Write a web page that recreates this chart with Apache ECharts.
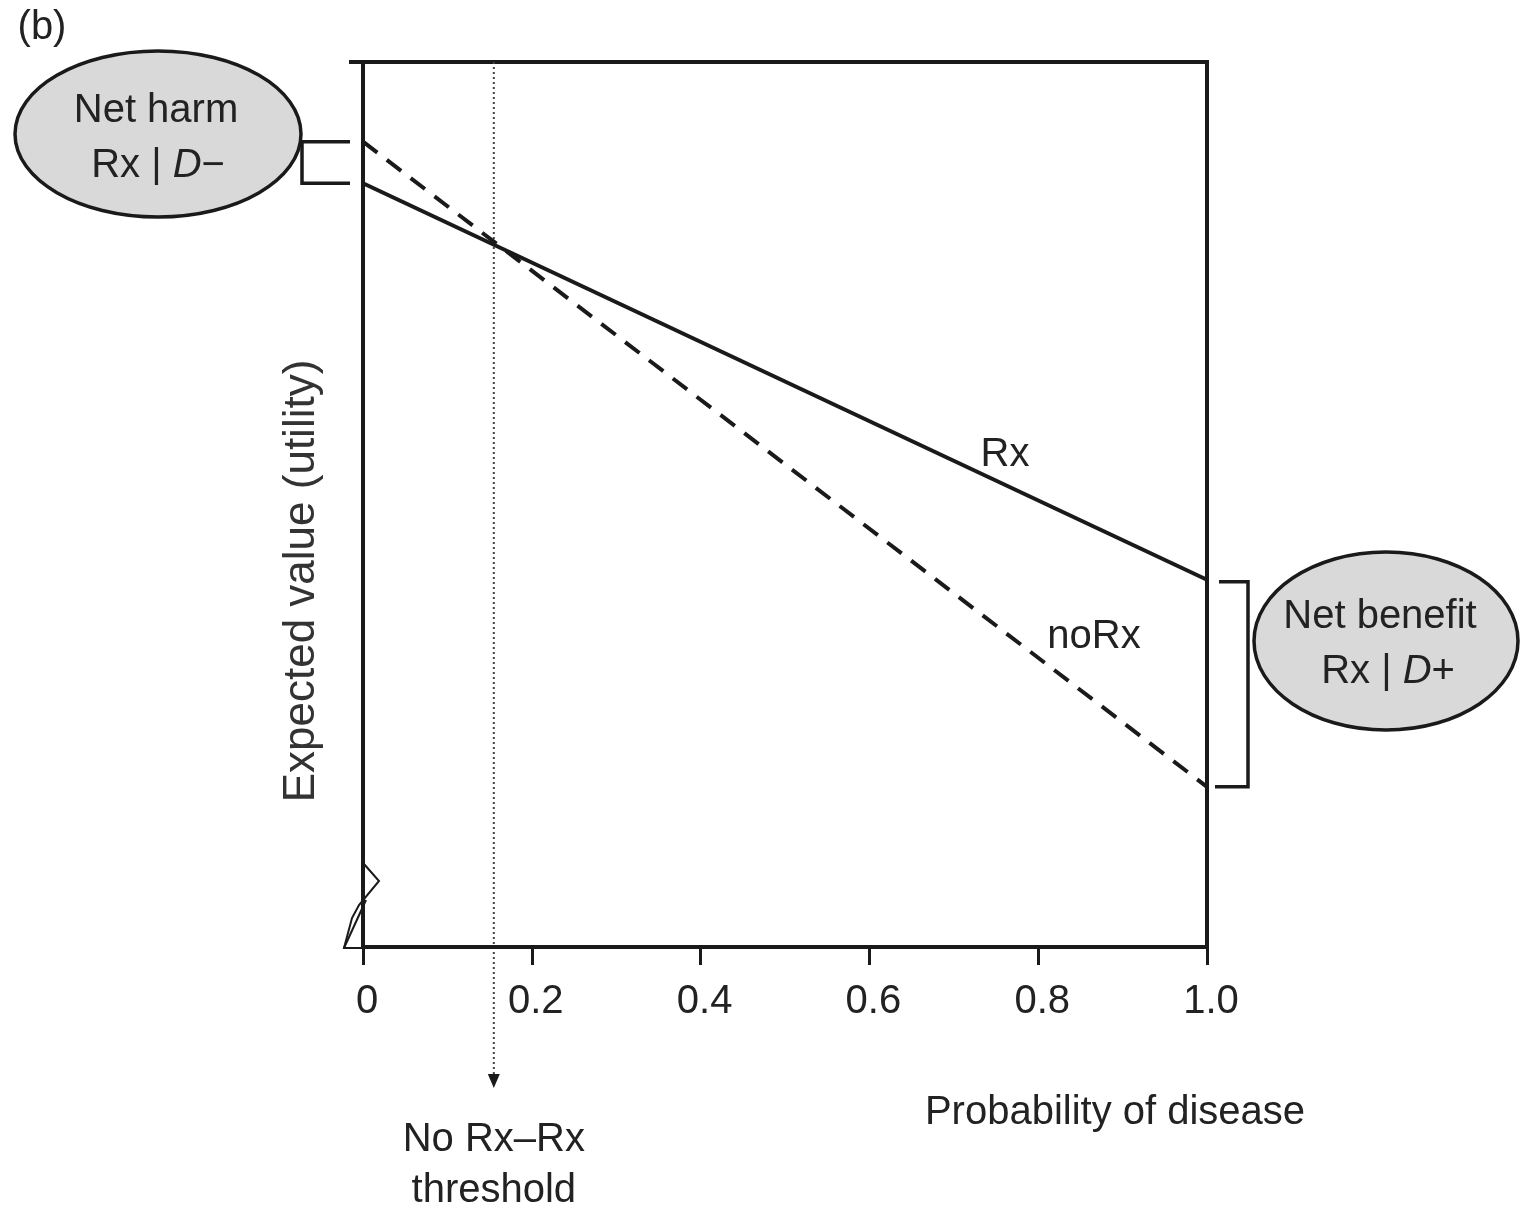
<!DOCTYPE html>
<html>
<head>
<meta charset="utf-8">
<title>Treatment threshold</title>
<script src="https://cdn.jsdelivr.net/npm/echarts@6/dist/echarts.min.js"></script>
<style>
    html, body { margin: 0; padding: 0; background: #fff; }
    #main { width: 1524px; height: 1212px; }
</style>
</head>
<body>
<div id="main"></div>
<script>
// data
var probability = [0, 1];               // x of the two end points
var rxValues = [0.863, 0.415];          // Rx, expected value
var noRxValues = [0.910, 0.181];        // noRx, expected value
var xTicks = [0, 0.2, 0.4, 0.6, 0.8, 1.0];
var thresholdP = 0.155;                 // No Rx-Rx threshold

var FONT = "'Liberation Sans', Arial, sans-serif";
var INK = '#1a1a1a';

var myChart = echarts.init(document.getElementById('main'));

function pairs(xs, ys) {
    var out = [];
    for (var i = 0; i < xs.length; i++) out.push([xs[i], ys[i]]);
    return out;
}

var option = {
    backgroundColor: '#fff',
    animation: false,
    grid: {
        left: 363, right: 317, top: 62, bottom: 265,
        show: true, borderColor: INK, borderWidth: 4
    },
    xAxis: {
        type: 'value',
        min: xTicks[0],
        max: xTicks[xTicks.length - 1],
        interval: 0.2,
        axisLine: { lineStyle: { color: INK, width: 4 } },
        axisTick: { show: true, length: 18, lineStyle: { color: INK, width: 3 } },
        splitLine: { show: false },
        axisLabel: {
            fontFamily: FONT, fontSize: 40, color: '#222', margin: 35,
            padding: [0, 0, 0, 8],
            formatter: function (v) {
                if (v === 0) return '0';
                return v.toFixed(1);
            }
        }
    },
    yAxis: {
        type: 'value',
        min: 0, max: 1,
        axisLine: { show: true, lineStyle: { color: INK, width: 4 } },
        axisTick: { show: false },
        axisLabel: { show: false },
        splitLine: { show: false }
    },
    series: [
        {
            name: 'Rx',
            type: 'line',
            data: pairs(probability, rxValues),
            symbol: 'none',
            lineStyle: { color: INK, width: 4 }
        },
        {
            name: 'noRx',
            type: 'line',
            data: pairs(probability, noRxValues),
            symbol: 'none',
            lineStyle: { color: INK, width: 4, type: [18, 12] }
        }
    ]
};
myChart.setOption(option);

// annotations, placed from the axes
function px(x, y) {
    return myChart.convertToPixel({ gridIndex: 0 }, [x, y]);
}
var origin = px(0, 0);
var topLeft = px(0, 1);
var lRx = px(probability[0], rxValues[0]);
var lNo = px(probability[0], noRxValues[0]);
var rRx = px(probability[1], rxValues[1]);
var rNo = px(probability[1], noRxValues[1]);
var thX = px(thresholdP, 0)[0];

var lineSt = { stroke: INK, lineWidth: 3.5, fill: null };
var textSt = function (text, x, y, size, extra) {
    var s = { text: text, x: x, y: y, font: 'normal ' + size + 'px ' + FONT,
              fill: '#222', align: 'center', verticalAlign: 'middle' };
    if (extra) for (var k in extra) s[k] = extra[k];
    return s;
};
var richD = {
    n: { fontFamily: FONT, fontSize: 40, fill: '#222' },
    i: { fontFamily: FONT, fontSize: 40, fontStyle: 'italic', fill: '#222' }
};

var graphic = [
    // top border extends a little left of the y axis
    { type: 'line', shape: { x1: 349, y1: topLeft[1], x2: origin[0], y2: topLeft[1] }, style: { stroke: INK, lineWidth: 4 } },
    // axis break mark
    { type: 'polyline', shape: { points: [[origin[0] + 1, 864], [379, 881], [359, 905], [352, 918], [344, 948], [origin[0], 948]] }, style: { stroke: INK, lineWidth: 2, fill: null } },
    { type: 'line', shape: { x1: 344, y1: 948, x2: 366, y2: 900 }, style: { stroke: INK, lineWidth: 2 } },
    // threshold dotted line + arrow
    { type: 'line', shape: { x1: thX, y1: topLeft[1], x2: thX, y2: 1078 }, style: { stroke: '#444', lineWidth: 2, lineDash: [2, 3] } },
    { type: 'polygon', shape: { points: [[thX - 6, 1074], [thX + 6, 1074], [thX, 1088]] }, style: { fill: INK } },
    { type: 'text', style: textSt('No Rx\u2013Rx', thX, 1140, 40) },
    { type: 'text', style: textSt('threshold', thX, 1191, 40) },
    // axis names
    { type: 'text', style: textSt('Probability of disease', 1115, 1113, 40) },
    { type: 'text', x: 302, y: 581, rotation: Math.PI / 2, style: textSt('Expected value (utility)', 0, 0, 44, { fill: '#333' }) },
    // panel letter
    { type: 'text', style: textSt('(b)', 42, 28, 40) },
    // line labels
    { type: 'text', style: textSt('Rx', 1005, 455, 40) },
    { type: 'text', style: textSt('noRx', 1094, 637, 40) },
    // left bracket + ellipse
    { type: 'polyline', shape: { points: [[lNo[0] - 13, lNo[1]], [302, lNo[1]], [302, lRx[1]], [lRx[0] - 13, lRx[1]]] }, style: lineSt },
    { type: 'ellipse', shape: { cx: 158, cy: 134, rx: 143, ry: 83 }, style: { fill: '#d9d9d9', stroke: INK, lineWidth: 3.5 } },
    { type: 'text', style: textSt('Net harm', 156, 111, 40) },
    { type: 'text', style: { text: '{n|Rx | }{i|D}{n|\u2212}', x: 158, y: 166, align: 'center', verticalAlign: 'middle', rich: richD } },
    // right bracket + ellipse
    { type: 'polyline', shape: { points: [[rRx[0] + 12, rRx[1] + 2], [1248, rRx[1] + 2], [1248, rNo[1]], [rNo[0] + 8, rNo[1]]] }, style: lineSt },
    { type: 'ellipse', shape: { cx: 1386, cy: 641, rx: 132, ry: 89 }, style: { fill: '#d9d9d9', stroke: INK, lineWidth: 3.5 } },
    { type: 'text', style: textSt('Net benefit', 1380, 617, 40) },
    { type: 'text', style: { text: '{n|Rx | }{i|D}{n|+}', x: 1388, y: 672, align: 'center', verticalAlign: 'middle', rich: richD } }
];
myChart.setOption({ graphic: graphic });

window.addEventListener('resize', function () {
    myChart.resize();
});
</script>
</body>
</html>
